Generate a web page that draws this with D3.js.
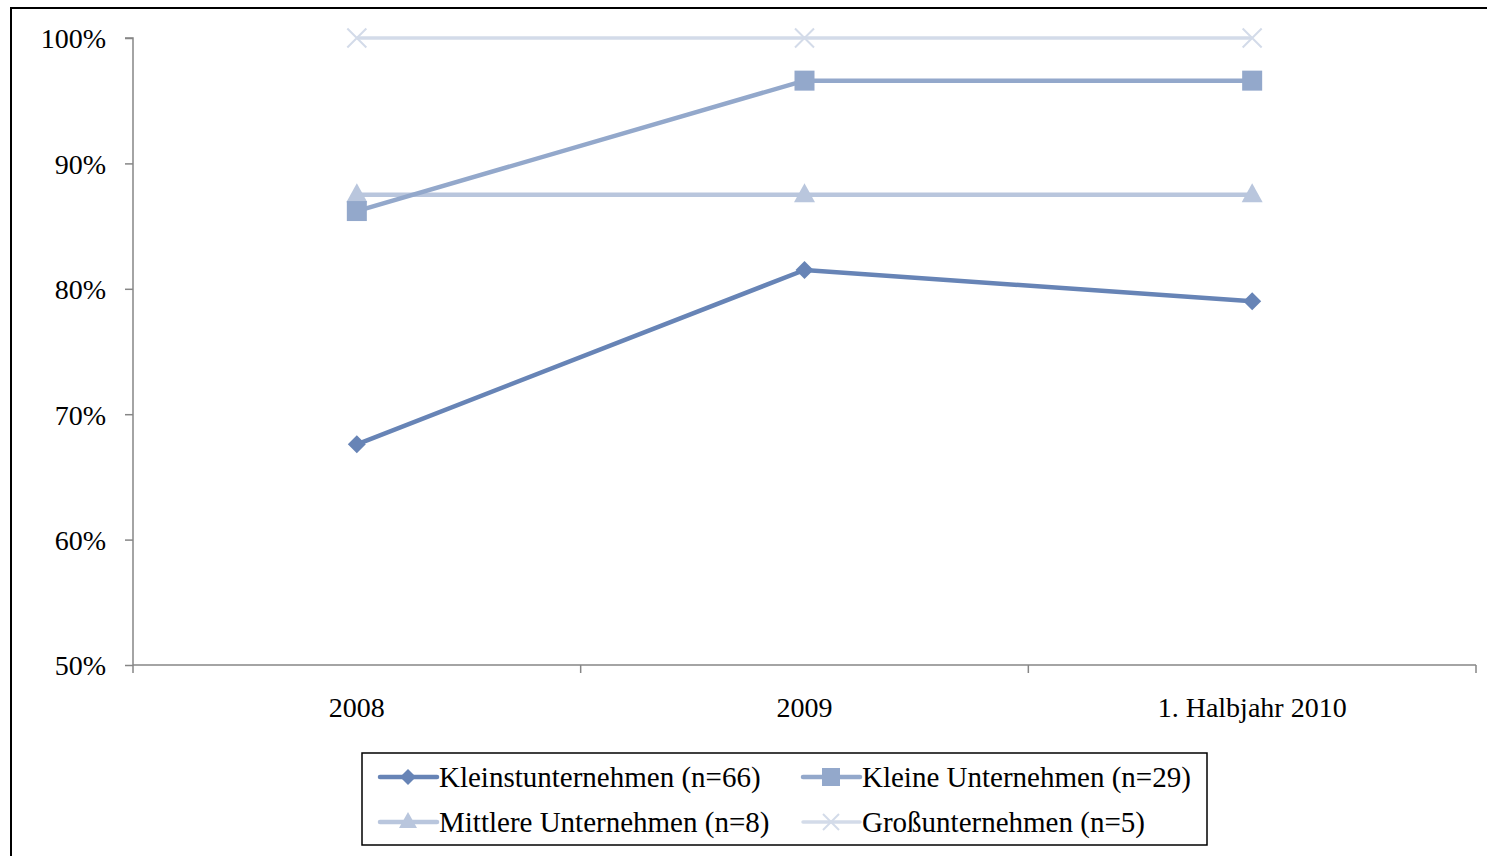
<!DOCTYPE html>
<html><head><meta charset="utf-8">
<script src="https://cdn.jsdelivr.net/npm/d3@7"></script>
<style>body{margin:0;background:#fff}svg{display:block}text{font-family:"Liberation Serif","Times New Roman",serif;fill:#000}</style>
</head><body>
<svg id="c" width="1487" height="856"></svg>
<script>
const categories = ["2008", "2009", "1. Halbjahr 2010"];
const seriesNames = ["Kleinstunternehmen (n=66)", "Kleine Unternehmen (n=29)", "Mittlere Unternehmen (n=8)", "Großunternehmen (n=5)"];
const kleinst = [67.6, 81.5, 79.0];
const kleine = [86.2, 96.6, 96.6];
const mittlere = [87.5, 87.5, 87.5];
const gross = [100, 100, 100];
const yTicks = [50, 60, 70, 80, 90, 100];

const series = [
  {name: seriesNames[0], values: kleinst, color: "#6784b6", marker: "diamond", w: 4.5},
  {name: seriesNames[1], values: kleine, color: "#93a8cb", marker: "square", w: 4.5},
  {name: seriesNames[2], values: mittlere, color: "#b9c6dd", marker: "triangle", w: 4.5},
  {name: seriesNames[3], values: gross, color: "#d3dbe9", marker: "cross", w: 3.5}
];

const svg = d3.select("#c");
svg.append("rect").attr("x", 11).attr("y", 8).attr("width", 1490).attr("height", 860)
  .attr("fill", "none").attr("stroke", "#000").attr("stroke-width", 2);

const x0 = 133, x1 = 1476, yTop = 38, yBot = 665;
const x = d3.scaleBand().domain(categories).range([x0, x1]);
const y = d3.scaleLinear().domain([50, 100]).range([yBot, yTop]);

const g = svg.append("g");
// y axis
const ya = g.append("g").attr("transform", `translate(${x0},0)`)
  .call(d3.axisLeft(y).tickValues(yTicks).tickSize(8).tickPadding(20).tickFormat(d => d + "%"));
ya.attr("font-family", null).attr("font-size", null);
ya.select(".domain").attr("stroke", "#868686").attr("stroke-width", 1.5).attr("d", `M-8,${yTop}H0V${yBot}`);
ya.selectAll(".tick line").attr("stroke", "#868686").attr("stroke-width", 1.5);
ya.selectAll(".tick text").attr("font-size", 28).attr("dy", "0.35em").attr("x", -27);

// x axis
const xa = g.append("g").attr("transform", `translate(0,${yBot})`)
  .call(d3.axisBottom(x).tickSize(0).tickPadding(30));
xa.attr("font-family", null).attr("font-size", null);
xa.select(".domain").attr("stroke", "#868686").attr("stroke-width", 1.5)
  .attr("d", `M${x0},0H${x1}`);
xa.selectAll(".tick text").attr("font-size", 28).attr("dy", null).attr("y", 52);
const edges = [x0].concat(categories.map(c => x(c) + x.bandwidth()));
g.selectAll(".xt").data(edges).enter().append("line")
  .attr("x1", d => d).attr("x2", d => d).attr("y1", yBot).attr("y2", yBot + 8)
  .attr("stroke", "#868686").attr("stroke-width", 1.5);

const cx = c => x(c) + x.bandwidth() / 2;

function drawMarker(sel, type, color, s) {
  if (type === "diamond") {
    sel.append("path").attr("d", `M0,${-s}L${s},0L0,${s}L${-s},0Z`).attr("fill", color);
  } else if (type === "square") {
    sel.append("rect").attr("x", -s).attr("y", -s).attr("width", 2 * s).attr("height", 2 * s).attr("fill", color);
  } else if (type === "triangle") {
    sel.append("path").attr("d", `M0,${-s - 2}L${s + 1},${s - 2}L${-s - 1},${s - 2}Z`).attr("fill", color);
  } else {
    sel.append("path").attr("d", `M${-s},${-s}L${s},${s}M${-s},${s}L${s},${-s}`).attr("stroke", color).attr("stroke-width", 2);
  }
}

const line = d3.line().x((d, i) => cx(categories[i])).y(d => y(d));
[...series].reverse().forEach(s => {
  g.append("path").datum(s.values).attr("d", line).attr("fill", "none")
    .attr("stroke", s.color).attr("stroke-width", s.w).attr("stroke-linejoin", "round");
  s.values.forEach((v, i) => {
    const m = g.append("g").attr("transform", `translate(${cx(categories[i])},${y(v)})`);
    drawMarker(m, s.marker, s.color, s.marker === "diamond" ? 9 : (s.marker === "square" ? 10 : 9.5));
  });
});

// legend
const lg = svg.append("g");
lg.append("rect").attr("x", 362).attr("y", 753).attr("width", 845).attr("height", 92)
  .attr("fill", "#fff").attr("stroke", "#000").attr("stroke-width", 1.5);
const pos = [[380, 777], [803, 777], [380, 822], [803, 822]];
series.forEach((s, i) => {
  const [lx, ly] = pos[i];
  lg.append("line").attr("x1", lx).attr("x2", lx + 57).attr("y1", ly).attr("y2", ly)
    .attr("stroke", s.color).attr("stroke-width", s.w).attr("stroke-linecap", "round");
  const m = lg.append("g").attr("transform", `translate(${lx + 28},${ly})`);
  drawMarker(m, s.marker, s.color, s.marker === "diamond" ? 8 : (s.marker === "square" ? 9 : 8));
  lg.append("text").attr("x", lx + 59).attr("y", ly).attr("dy", "0.35em").attr("font-size", 29).text(s.name);
});
</script>
</body></html>
